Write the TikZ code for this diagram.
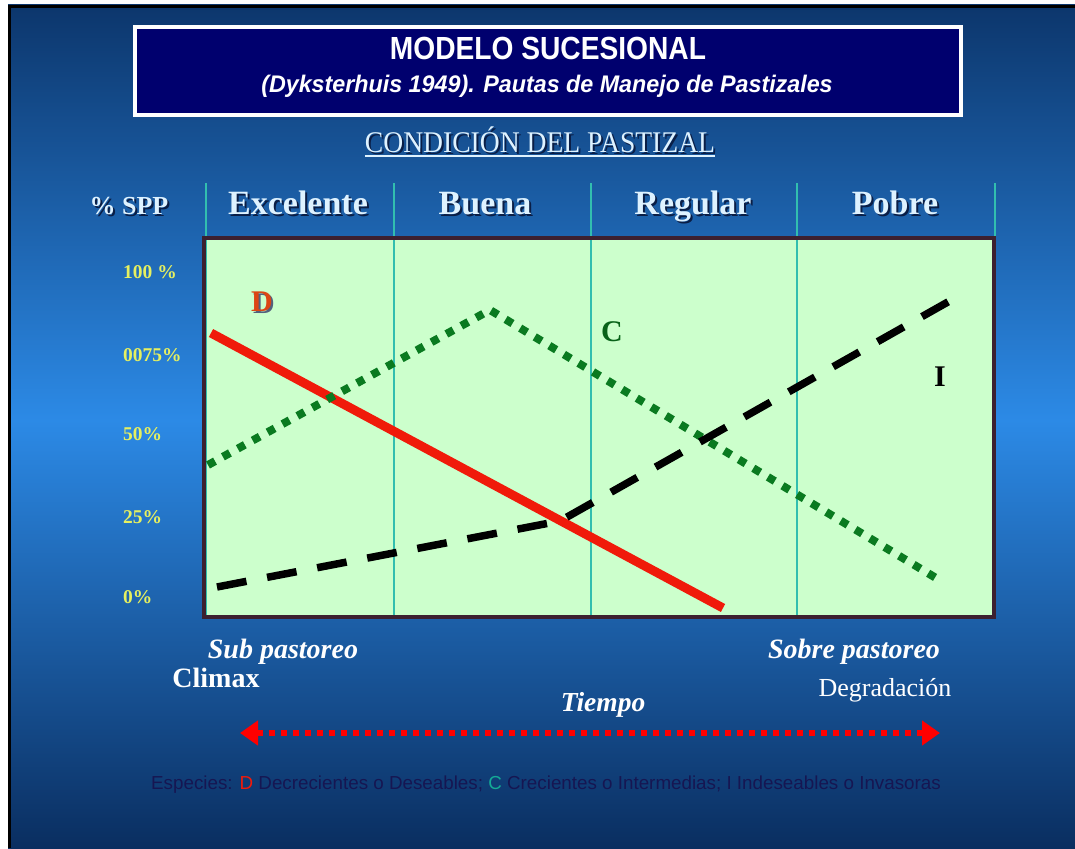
\documentclass[tikz,border=0pt]{standalone}
\usepackage{fontspec}
\setmainfont{Liberation Serif}
\newfontfamily\arialfont{Liberation Sans}
\usepackage{xcolor}
\usepackage{graphicx}
\usetikzlibrary{arrows.meta,positioning}
\definecolor{slidetop}{RGB}{12,54,108}
\definecolor{slidemid}{RGB}{44,138,230}
\definecolor{slidebot}{RGB}{10,46,96}
\definecolor{titlenavy}{RGB}{0,0,110}
\definecolor{headtxt}{RGB}{222,242,255}
\definecolor{shadowtxt}{RGB}{10,30,70}
\definecolor{pasture}{RGB}{204,255,204}
\definecolor{chartedge}{RGB}{60,32,48}
\definecolor{gridline}{RGB}{50,190,175}
\definecolor{declred}{RGB}{240,26,10}
\definecolor{dlabel}{RGB}{220,70,20}
\definecolor{incgreen}{RGB}{10,122,32}
\definecolor{pctyellow}{RGB}{230,240,96}
\definecolor{footnavy}{RGB}{22,22,82}
\definecolor{footteal}{RGB}{20,170,150}
\newcommand{\narrow}[1]{\scalebox{0.88}[1]{#1}}

\begin{document}
\begin{tikzpicture}[x=1pt,y=-1pt]
	\tikzstyle{every node}=[inner sep=0pt]
	\tikzstyle{hdr}=[font=\bfseries\fontsize{34}{36}\selectfont, text=headtxt, anchor=base]
	\tikzstyle{hdrshadow}=[font=\bfseries\fontsize{34}{36}\selectfont, text=shadowtxt, anchor=base]
	\tikzstyle{pct}=[font=\bfseries\fontsize{19.5}{21}\selectfont, text=pctyellow, anchor=west]
	\tikzstyle{serieslbl}=[font=\bfseries\fontsize{30}{32}\selectfont]
	\tikzstyle{bottomlbl}=[font=\fontsize{25}{27}\selectfont, text=white]
	\useasboundingbox (0,0) rectangle (1075,848);
	\fill [white] (0,0) rectangle (1075,848);
	\shade [top color=slidetop, bottom color=slidemid] (8,5) rectangle (1075,421);
	\shade [top color=slidemid, bottom color=slidebot] (8,420) rectangle (1075,848);
	\draw [line width=3pt, black] (9.5,848) -- (9.5,6.5) -- (1075,6.5);
	\draw [line width=4pt, draw=white, fill=titlenavy] (135,27) rectangle (961,115);
	\node [font=\arialfont\bfseries\fontsize{32}{34}\selectfont, text=white] (title) at (548,48) {\narrow{MODELO SUCESIONAL}};
	\node [font=\arialfont\bfseries\itshape\fontsize{24}{26}\selectfont, text=white] (subtitle) at (547,86) {\scalebox{0.97}[1]{(Dyksterhuis 1949). Pautas de Manejo de Pastizales}};
	\node [font=\fontsize{30}{32}\selectfont, text=shadowtxt, anchor=base] at (542,154) {\scalebox{0.92}[1]{CONDICIÓN DEL PASTIZAL}};
	\node [font=\fontsize{30}{32}\selectfont, text=headtxt, anchor=base] (cond) at (540,152) {\scalebox{0.92}[1]{CONDICIÓN DEL PASTIZAL}};
	\draw [line width=1.5pt, headtxt] ([yshift=-4pt]cond.base west) -- ([yshift=-4pt]cond.base east);
	\draw [line width=1.3pt, gridline] (206,183) -- (206,618);
	\draw [line width=1.3pt, gridline] (394,183) -- (394,618);
	\draw [line width=1.3pt, gridline] (591,183) -- (591,618);
	\draw [line width=1.3pt, gridline] (797,183) -- (797,618);
	\draw [line width=1.3pt, gridline] (995,183) -- (995,238);
	\node [hdrshadow, font=\bfseries\fontsize{26}{28}\selectfont] at (131,216) {\% SPP};
	\node [hdr, font=\bfseries\fontsize{26}{28}\selectfont] (spp) at (129,214) {\% SPP};
	\node [hdrshadow] at (300,216) {Excelente};
	\node [hdr] (excelente) at (298,214) {Excelente};
	\node [hdrshadow] at (487,216) {Buena};
	\node [hdr] (buena) at (485,214) {Buena};
	\node [hdrshadow] at (695,216) {Regular};
	\node [hdr] (regular) at (693,214) {Regular};
	\node [hdrshadow] at (897,216) {Pobre};
	\node [hdr] (pobre) at (895,214) {Pobre};
	\fill [pasture] (204,238) rectangle (994,617);
	\draw [line width=1.3pt, gridline] (206,238) -- (206,617);
	\draw [line width=1.3pt, gridline] (394,238) -- (394,617);
	\draw [line width=1.3pt, gridline] (591,238) -- (591,617);
	\draw [line width=1.3pt, gridline] (797,238) -- (797,617);
	\draw [line width=3.5pt, chartedge] (204,238) rectangle (994,617);
	\node [pct] (p100) at (123,272) {100 \%};
	\node [pct] (p75) at (123,355) {0075\%};
	\node [pct] (p50) at (123,434) {50\%};
	\node [pct] (p25) at (123,517) {25\%};
	\node [pct] (p0) at (123,597) {0\%};
	\coordinate (d0) at (211,333);
	\coordinate (d1) at (723,608);
	\coordinate (c0) at (208,465);
	\coordinate (c1) at (490,310);
	\coordinate (c2) at (936,578);
	\coordinate (i0) at (217,587);
	\coordinate (i1) at (560,521);
	\coordinate (i2) at (962,294);
	\draw [line width=9pt, declred] (d0) -- (d1);
	\draw [line width=8pt, incgreen, dash pattern=on 8pt off 9pt] (c0) -- (c1) -- (c2);
	\draw [line width=7.5pt, black, dash pattern=on 30pt off 21pt] (i0) -- (i1) -- (i2);
	\node [serieslbl, text=shadowtxt!70] at (264,304) {D};
	\node [serieslbl, text=dlabel] (dlbl) at (262,302) {D};
	\node [serieslbl, text=incgreen!80!black] (clbl) at (612,332) {C};
	\node [serieslbl, text=black] (ilbl) at (940,377) {I};
	\node [bottomlbl, font=\bfseries\itshape\fontsize{28}{30}\selectfont] (subp) at (283,652) {Sub pastoreo};
	\node [bottomlbl, font=\bfseries\fontsize{28}{30}\selectfont] (climax) at (216,678) {Climax};
	\node [bottomlbl, font=\bfseries\itshape\fontsize{28}{30}\selectfont] (sobrep) at (854,652) {Sobre pastoreo};
	\node [bottomlbl, font=\bfseries\itshape\fontsize{27.5}{29}\selectfont] (tiempo) at (603,705) {Tiempo};
	\node [bottomlbl, font=\fontsize{26}{28}\selectfont] (degrad) at (885,690) {Degradación};
	\coordinate (t0) at (240,733);
	\coordinate (t1) at (940,733);
	\draw [line width=6pt, red, dash pattern=on 6pt off 6pt, {Triangle[length=18pt,width=24pt]}-{Triangle[length=18pt,width=24pt]}] (t0) -- (t1);
	\node [font=\arialfont\fontsize{18.8}{20}\selectfont, text=footnavy] (especies) at (546,785) {Especies: {\color{declred}D} Decrecientes o Deseables; {\color{footteal}C} Crecientes o Intermedias; I Indeseables o Invasoras};
\end{tikzpicture}
\end{document}
